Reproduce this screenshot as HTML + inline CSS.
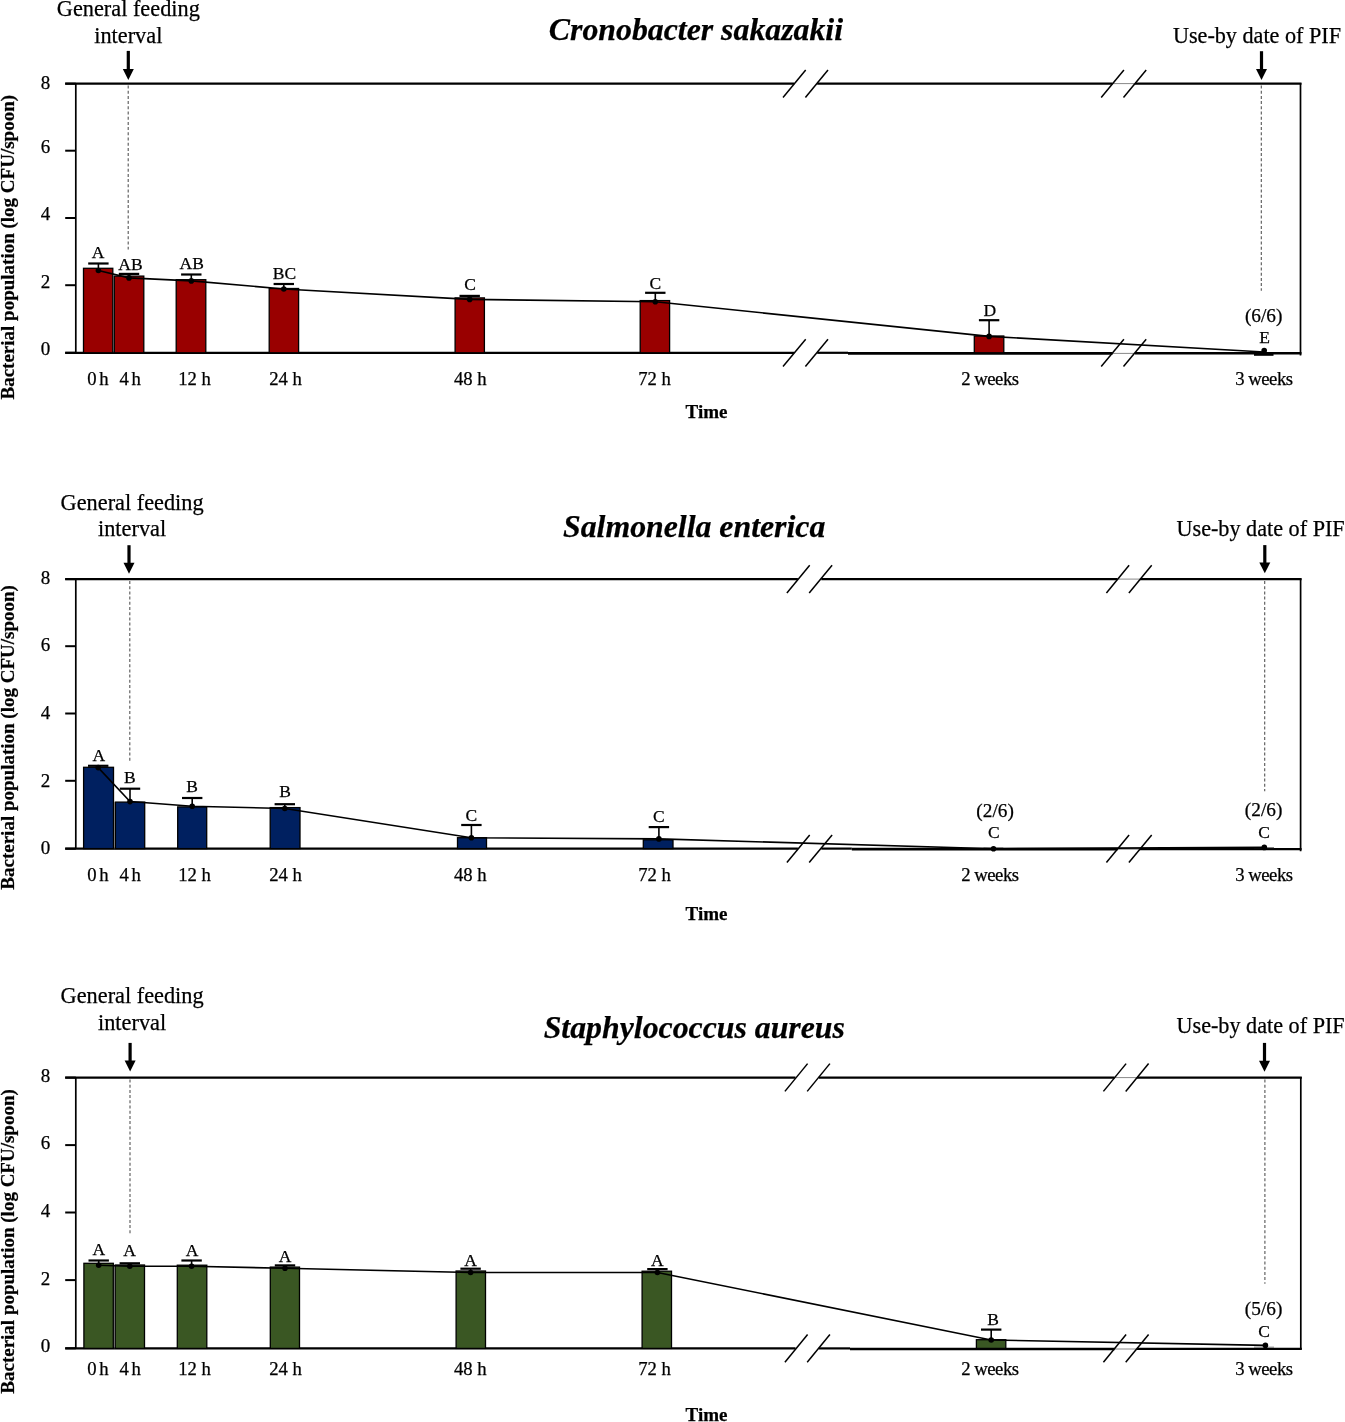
<!DOCTYPE html><html><head><meta charset="utf-8"><style>html,body{margin:0;padding:0;background:#fff;width:1345px;height:1422px;overflow:hidden}svg{position:absolute;left:0;top:0;will-change:transform}text{font-family:"Liberation Serif",serif;fill:#000;stroke:#000;stroke-width:0.25px}</style></head><body><svg width="1345" height="1422" viewBox="0 0 1345 1422">
<rect width="1345" height="1422" fill="#fff"/>
<g>
<text x="695.95" y="40.4" font-size="31.8" font-weight="bold" font-style="italic" text-anchor="middle" >Cronobacter sakazakii</text>
<text x="128.3" y="15.8" font-size="22.3" text-anchor="middle" >General feeding</text>
<text x="128.3" y="42.6" font-size="22.3" text-anchor="middle" >interval</text>
<text x="1257" y="42.6" font-size="22.2" text-anchor="middle" >Use-by date of PIF</text>
<line x1="128.3" y1="50.9" x2="128.3" y2="71.5" stroke="#000" stroke-width="3.2" />
<path d="M122.8,69 L133.8,69 L128.3,79.9 Z" fill="#000"/>
<line x1="1261.5" y1="51.2" x2="1261.5" y2="71.5" stroke="#000" stroke-width="3.2" />
<path d="M1256,69 L1267,69 L1261.5,79.9 Z" fill="#000"/>
<line x1="128.2" y1="85.5" x2="128.2" y2="249.5" stroke="#555" stroke-width="1.1" stroke-dasharray="3 2.2"/>
<line x1="1261.3" y1="85.5" x2="1261.3" y2="290.8" stroke="#555" stroke-width="1.1" stroke-dasharray="3 2.2"/>
<line x1="75.8" y1="83.6" x2="75.8" y2="352.8" stroke="#000" stroke-width="1.7" />
<line x1="1300.5" y1="83.1" x2="1300.5" y2="355.4" stroke="#000" stroke-width="1.7" />
<line x1="65.2" y1="83.6" x2="794.2" y2="83.6" stroke="#000" stroke-width="2.2" />
<line x1="817.2" y1="83.6" x2="1112.5" y2="83.6" stroke="#000" stroke-width="2.2" />
<line x1="1112.5" y1="83.6" x2="1135" y2="83.6" stroke="#888" stroke-width="1" />
<line x1="1135" y1="83.6" x2="1301.5" y2="83.6" stroke="#000" stroke-width="2.2" />
<line x1="65.2" y1="352.8" x2="794.2" y2="352.8" stroke="#000" stroke-width="2.2" />
<line x1="817.2" y1="352.8" x2="848" y2="352.8" stroke="#000" stroke-width="2.2" />
<line x1="848" y1="353.35" x2="1112.5" y2="353.35" stroke="#000" stroke-width="2.6" />
<line x1="1112.5" y1="353.4" x2="1135" y2="353.4" stroke="#888" stroke-width="1" />
<line x1="1135" y1="353.25" x2="1301.5" y2="353.25" stroke="#000" stroke-width="2.3" />
<line x1="65.2" y1="352.8" x2="75.8" y2="352.8" stroke="#000" stroke-width="2.0" />
<text x="50.3" y="355.3" font-size="19" text-anchor="end" >0</text>
<line x1="65.2" y1="285.2" x2="75.8" y2="285.2" stroke="#000" stroke-width="2.0" />
<text x="50.3" y="287.5" font-size="19" text-anchor="end" >2</text>
<line x1="65.2" y1="218" x2="75.8" y2="218" stroke="#000" stroke-width="2.0" />
<text x="50.3" y="219.7" font-size="19" text-anchor="end" >4</text>
<line x1="65.2" y1="150.7" x2="75.8" y2="150.7" stroke="#000" stroke-width="2.0" />
<text x="50.3" y="152.5" font-size="19" text-anchor="end" >6</text>
<line x1="65.2" y1="83.7" x2="75.8" y2="83.7" stroke="#000" stroke-width="2.0" />
<text x="50.3" y="88.8" font-size="19" text-anchor="end" >8</text>
<line x1="783" y1="97.4" x2="805.7" y2="69.9" stroke="#000" stroke-width="1.5" />
<line x1="783" y1="366.5" x2="805.7" y2="339.2" stroke="#000" stroke-width="1.5" />
<line x1="805.4" y1="97.4" x2="828" y2="69.9" stroke="#000" stroke-width="1.5" />
<line x1="805.4" y1="366.5" x2="828" y2="339.2" stroke="#000" stroke-width="1.5" />
<line x1="1101.2" y1="97.4" x2="1123.9" y2="69.9" stroke="#000" stroke-width="1.5" />
<line x1="1101.2" y1="366.5" x2="1123.9" y2="339.2" stroke="#000" stroke-width="1.5" />
<line x1="1123.5" y1="97.4" x2="1146.2" y2="69.9" stroke="#000" stroke-width="1.5" />
<line x1="1123.5" y1="366.5" x2="1146.2" y2="339.2" stroke="#000" stroke-width="1.5" />
<rect x="113.4" y="276.1" width="0.3" height="76.7" fill="#a0a0a0"/>
<rect x="83.5" y="268.3" width="29.3" height="84.5" fill="#990000" stroke="#000" stroke-width="1.3"/>
<line x1="98.4" y1="263.5" x2="98.4" y2="270.5" stroke="#000" stroke-width="1.6" />
<line x1="88.2" y1="263.5" x2="108.6" y2="263.5" stroke="#000" stroke-width="2.2" />
<text x="98" y="257.8" font-size="17.5" text-anchor="middle" >A</text>
<rect x="114.3" y="276.1" width="29.5" height="76.7" fill="#990000" stroke="#000" stroke-width="1.3"/>
<line x1="129" y1="273.9" x2="129" y2="277.9" stroke="#000" stroke-width="1.6" />
<line x1="118.8" y1="273.9" x2="139.2" y2="273.9" stroke="#000" stroke-width="2.2" />
<text x="130.5" y="269.8" font-size="17.5" text-anchor="middle" >AB</text>
<rect x="176.2" y="279.7" width="29.6" height="73.1" fill="#990000" stroke="#000" stroke-width="1.3"/>
<line x1="191.3" y1="274.5" x2="191.3" y2="280.9" stroke="#000" stroke-width="1.6" />
<line x1="181.1" y1="274.5" x2="201.5" y2="274.5" stroke="#000" stroke-width="2.2" />
<text x="191.7" y="269" font-size="17.5" text-anchor="middle" >AB</text>
<rect x="269.2" y="288.5" width="29.4" height="64.3" fill="#990000" stroke="#000" stroke-width="1.3"/>
<line x1="283.8" y1="284" x2="283.8" y2="289" stroke="#000" stroke-width="1.6" />
<line x1="273.6" y1="284" x2="294" y2="284" stroke="#000" stroke-width="2.2" />
<text x="284.5" y="278.7" font-size="17.5" text-anchor="middle" >BC</text>
<rect x="455.1" y="297.9" width="29.3" height="54.9" fill="#990000" stroke="#000" stroke-width="1.3"/>
<line x1="469.7" y1="295.9" x2="469.7" y2="299.4" stroke="#000" stroke-width="1.6" />
<line x1="459.5" y1="295.9" x2="479.9" y2="295.9" stroke="#000" stroke-width="2.2" />
<text x="470" y="290.3" font-size="17.5" text-anchor="middle" >C</text>
<rect x="640.2" y="300.6" width="29.4" height="52.2" fill="#990000" stroke="#000" stroke-width="1.3"/>
<line x1="655.3" y1="292.8" x2="655.3" y2="301.8" stroke="#000" stroke-width="1.6" />
<line x1="645.1" y1="292.8" x2="665.5" y2="292.8" stroke="#000" stroke-width="2.2" />
<text x="655.3" y="288.5" font-size="17.5" text-anchor="middle" >C</text>
<rect x="974.3" y="336" width="29.5" height="16.8" fill="#990000" stroke="#000" stroke-width="1.3"/>
<line x1="989.1" y1="320.2" x2="989.1" y2="336.4" stroke="#000" stroke-width="1.6" />
<line x1="978.9" y1="320.2" x2="999.3" y2="320.2" stroke="#000" stroke-width="2.2" />
<text x="989.7" y="315.5" font-size="17.5" text-anchor="middle" >D</text>
<rect x="1254" y="352.9" width="19.5" height="2.9" fill="#000"/>
<text x="1264.5" y="343" font-size="17.5" text-anchor="middle" >E</text>
<polyline points="98.4,270.5 129,277.9 191.3,280.9 283.8,289 469.7,299.4 655.3,301.8 989.1,336.4 1264.2,352" fill="none" stroke="#000" stroke-width="1.6"/>
<circle cx="98.4" cy="270.5" r="2.8"/>
<circle cx="129" cy="277.9" r="2.8"/>
<circle cx="191.3" cy="280.9" r="2.8"/>
<circle cx="283.8" cy="289" r="2.8"/>
<circle cx="469.7" cy="299.4" r="2.8"/>
<circle cx="655.3" cy="301.8" r="2.8"/>
<circle cx="989.1" cy="336.4" r="2.8"/>
<circle cx="1264.2" cy="350.5" r="2.8"/>
<text x="1263.7" y="321.7" font-size="19.3" text-anchor="middle" >(6/6)</text>
<text x="99.3" y="385" font-size="18.7" text-anchor="middle" letter-spacing="2.6">0h</text>
<text x="131.5" y="385" font-size="18.7" text-anchor="middle" letter-spacing="2.6">4h</text>
<text x="194.6" y="385" font-size="18.7" text-anchor="middle" >12 h</text>
<text x="285.6" y="385" font-size="18.7" text-anchor="middle" >24 h</text>
<text x="470.25" y="385" font-size="18.7" text-anchor="middle" >48 h</text>
<text x="654.5" y="385" font-size="18.7" text-anchor="middle" >72 h</text>
<text x="989.9" y="385" font-size="18.7" text-anchor="middle" letter-spacing="-0.5">2 weeks</text>
<text x="1263.9" y="385" font-size="18.7" text-anchor="middle" letter-spacing="-0.5">3 weeks</text>
<text x="706.55" y="418" font-size="19" font-weight="bold" text-anchor="middle" >Time</text>
<text x="13.9" y="247.25" font-size="19" font-weight="bold" text-anchor="middle" transform="rotate(-90 13.9 247.25)">Bacterial population (log CFU/spoon)</text>
</g>
<g>
<text x="694.15" y="537.4" font-size="31.8" font-weight="bold" font-style="italic" text-anchor="middle" >Salmonella enterica</text>
<text x="132.1" y="509.5" font-size="22.3" text-anchor="middle" >General feeding</text>
<text x="132.1" y="535.9" font-size="22.3" text-anchor="middle" >interval</text>
<text x="1260.6" y="536" font-size="22.2" text-anchor="middle" >Use-by date of PIF</text>
<line x1="129" y1="545.2" x2="129" y2="565.3" stroke="#000" stroke-width="3.2" />
<path d="M123.5,562.8 L134.5,562.8 L129,573.7 Z" fill="#000"/>
<line x1="1264.8" y1="545.1" x2="1264.8" y2="564.9" stroke="#000" stroke-width="3.2" />
<path d="M1259.3,562.4 L1270.3,562.4 L1264.8,573.3 Z" fill="#000"/>
<line x1="129.8" y1="581" x2="129.8" y2="763" stroke="#555" stroke-width="1.1" stroke-dasharray="3 2.2"/>
<line x1="1264.7" y1="581" x2="1264.7" y2="791.2" stroke="#555" stroke-width="1.1" stroke-dasharray="3 2.2"/>
<line x1="75.8" y1="579.1" x2="75.8" y2="848.6" stroke="#000" stroke-width="1.7" />
<line x1="1300.6" y1="578.6" x2="1300.6" y2="851.2" stroke="#000" stroke-width="1.7" />
<line x1="65.2" y1="579.1" x2="797.9" y2="579.1" stroke="#000" stroke-width="2.2" />
<line x1="821.3" y1="579.1" x2="1117.5" y2="579.1" stroke="#000" stroke-width="2.2" />
<line x1="1117.5" y1="579.1" x2="1140" y2="579.1" stroke="#888" stroke-width="1" />
<line x1="1140" y1="579.1" x2="1301.6" y2="579.1" stroke="#000" stroke-width="2.2" />
<line x1="65.2" y1="848.6" x2="797.9" y2="848.6" stroke="#000" stroke-width="2.2" />
<line x1="821.3" y1="848.6" x2="851.8" y2="848.6" stroke="#000" stroke-width="2.2" />
<line x1="851.8" y1="849.15" x2="1117.5" y2="849.15" stroke="#000" stroke-width="2.6" />
<line x1="1117.5" y1="849.2" x2="1140" y2="849.2" stroke="#888" stroke-width="1" />
<line x1="1140" y1="849.05" x2="1301.6" y2="849.05" stroke="#000" stroke-width="2.3" />
<line x1="65.2" y1="848.7" x2="75.8" y2="848.7" stroke="#000" stroke-width="2.0" />
<text x="50.3" y="854.2" font-size="19" text-anchor="end" >0</text>
<line x1="65.2" y1="780.8" x2="75.8" y2="780.8" stroke="#000" stroke-width="2.0" />
<text x="50.3" y="786.7" font-size="19" text-anchor="end" >2</text>
<line x1="65.2" y1="713.5" x2="75.8" y2="713.5" stroke="#000" stroke-width="2.0" />
<text x="50.3" y="718.6" font-size="19" text-anchor="end" >4</text>
<line x1="65.2" y1="646.2" x2="75.8" y2="646.2" stroke="#000" stroke-width="2.0" />
<text x="50.3" y="651.1" font-size="19" text-anchor="end" >6</text>
<line x1="65.2" y1="579.1" x2="75.8" y2="579.1" stroke="#000" stroke-width="2.0" />
<text x="50.3" y="583.6" font-size="19" text-anchor="end" >8</text>
<line x1="786.9" y1="593" x2="809.7" y2="565.2" stroke="#000" stroke-width="1.5" />
<line x1="786.9" y1="862.5" x2="809.7" y2="834.9" stroke="#000" stroke-width="1.5" />
<line x1="809.2" y1="593" x2="832.1" y2="565.2" stroke="#000" stroke-width="1.5" />
<line x1="809.2" y1="862.5" x2="832.1" y2="834.9" stroke="#000" stroke-width="1.5" />
<line x1="1106.4" y1="593" x2="1129.1" y2="565.2" stroke="#000" stroke-width="1.5" />
<line x1="1106.4" y1="862.5" x2="1129.1" y2="834.9" stroke="#000" stroke-width="1.5" />
<line x1="1128.9" y1="593" x2="1151.7" y2="565.2" stroke="#000" stroke-width="1.5" />
<line x1="1128.9" y1="862.5" x2="1151.7" y2="834.9" stroke="#000" stroke-width="1.5" />
<rect x="114.1" y="802.1" width="0.7" height="46.5" fill="#a0a0a0"/>
<rect x="83.6" y="767.3" width="29.9" height="81.3" fill="#002060" stroke="#000" stroke-width="1.3"/>
<line x1="98.2" y1="765.8" x2="98.2" y2="767.6" stroke="#000" stroke-width="1.6" />
<line x1="88" y1="765.8" x2="108.4" y2="765.8" stroke="#000" stroke-width="2.2" />
<text x="98.8" y="761.3" font-size="17.5" text-anchor="middle" >A</text>
<rect x="115.4" y="802.1" width="29.3" height="46.5" fill="#002060" stroke="#000" stroke-width="1.3"/>
<line x1="130" y1="788.7" x2="130" y2="801.6" stroke="#000" stroke-width="1.6" />
<line x1="119.8" y1="788.7" x2="140.2" y2="788.7" stroke="#000" stroke-width="2.2" />
<text x="129.8" y="783.2" font-size="17.5" text-anchor="middle" >B</text>
<rect x="177.7" y="806.9" width="29" height="41.7" fill="#002060" stroke="#000" stroke-width="1.3"/>
<line x1="192.2" y1="798" x2="192.2" y2="806.3" stroke="#000" stroke-width="1.6" />
<line x1="182" y1="798" x2="202.4" y2="798" stroke="#000" stroke-width="2.2" />
<text x="192.1" y="791.5" font-size="17.5" text-anchor="middle" >B</text>
<rect x="270.2" y="807.6" width="29.8" height="41" fill="#002060" stroke="#000" stroke-width="1.3"/>
<line x1="284.8" y1="804.2" x2="284.8" y2="808.5" stroke="#000" stroke-width="1.6" />
<line x1="274.6" y1="804.2" x2="295" y2="804.2" stroke="#000" stroke-width="2.2" />
<text x="285" y="797.3" font-size="17.5" text-anchor="middle" >B</text>
<rect x="457.5" y="837.7" width="29" height="10.9" fill="#002060" stroke="#000" stroke-width="1.3"/>
<line x1="471.4" y1="825" x2="471.4" y2="837.7" stroke="#000" stroke-width="1.6" />
<line x1="461.2" y1="825" x2="481.6" y2="825" stroke="#000" stroke-width="2.2" />
<text x="471.4" y="820.5" font-size="17.5" text-anchor="middle" >C</text>
<rect x="643.3" y="839.8" width="29.7" height="8.8" fill="#002060" stroke="#000" stroke-width="1.3"/>
<line x1="658.9" y1="827.1" x2="658.9" y2="838.9" stroke="#000" stroke-width="1.6" />
<line x1="648.7" y1="827.1" x2="669.1" y2="827.1" stroke="#000" stroke-width="2.2" />
<text x="658.9" y="821.5" font-size="17.5" text-anchor="middle" >C</text>
<line x1="983.5" y1="847.8" x2="1003.3" y2="847.8" stroke="#777" stroke-width="1" />
<text x="993.9" y="838.3" font-size="17.5" text-anchor="middle" >C</text>
<line x1="1254" y1="847.6" x2="1274" y2="847.6" stroke="#777" stroke-width="1" />
<text x="1264.2" y="837.5" font-size="17.5" text-anchor="middle" >C</text>
<polyline points="98.2,767.6 130,801.6 192.2,806.3 284.8,808.5 471.4,837.7 658.9,838.9 993.5,848.7 1264.3,847.4" fill="none" stroke="#000" stroke-width="1.6"/>
<circle cx="98.2" cy="767.6" r="2.8"/>
<circle cx="130" cy="801.6" r="2.8"/>
<circle cx="192.2" cy="806.3" r="2.8"/>
<circle cx="284.8" cy="808.5" r="2.8"/>
<circle cx="471.4" cy="837.7" r="2.8"/>
<circle cx="658.9" cy="838.9" r="2.8"/>
<circle cx="993.5" cy="848.7" r="2.8"/>
<circle cx="1264.3" cy="847.4" r="2.8"/>
<text x="995.1" y="816.5" font-size="19.3" text-anchor="middle" >(2/6)</text>
<text x="1263.6" y="816.1" font-size="19.3" text-anchor="middle" >(2/6)</text>
<text x="99.3" y="881" font-size="18.7" text-anchor="middle" letter-spacing="2.6">0h</text>
<text x="131.5" y="881" font-size="18.7" text-anchor="middle" letter-spacing="2.6">4h</text>
<text x="194.6" y="881" font-size="18.7" text-anchor="middle" >12 h</text>
<text x="285.6" y="881" font-size="18.7" text-anchor="middle" >24 h</text>
<text x="470.25" y="881" font-size="18.7" text-anchor="middle" >48 h</text>
<text x="654.5" y="881" font-size="18.7" text-anchor="middle" >72 h</text>
<text x="989.9" y="881" font-size="18.7" text-anchor="middle" letter-spacing="-0.5">2 weeks</text>
<text x="1263.9" y="881" font-size="18.7" text-anchor="middle" letter-spacing="-0.5">3 weeks</text>
<text x="706.55" y="919.7" font-size="19" font-weight="bold" text-anchor="middle" >Time</text>
<text x="13.9" y="737.4" font-size="19" font-weight="bold" text-anchor="middle" transform="rotate(-90 13.9 737.4)">Bacterial population (log CFU/spoon)</text>
</g>
<g>
<text x="694.3" y="1037.9" font-size="31.8" font-weight="bold" font-style="italic" text-anchor="middle" >Staphylococcus aureus</text>
<text x="132.1" y="1002.8" font-size="22.3" text-anchor="middle" >General feeding</text>
<text x="132.1" y="1029.5" font-size="22.3" text-anchor="middle" >interval</text>
<text x="1260.6" y="1033" font-size="22.2" text-anchor="middle" >Use-by date of PIF</text>
<line x1="130.1" y1="1042.9" x2="130.1" y2="1063" stroke="#000" stroke-width="3.2" />
<path d="M124.6,1060.5 L135.6,1060.5 L130.1,1071.4 Z" fill="#000"/>
<line x1="1264.5" y1="1042.9" x2="1264.5" y2="1063.3" stroke="#000" stroke-width="3.2" />
<path d="M1259,1060.8 L1270,1060.8 L1264.5,1071.7 Z" fill="#000"/>
<line x1="130" y1="1079.5" x2="130" y2="1234.9" stroke="#555" stroke-width="1.1" stroke-dasharray="3 2.2"/>
<line x1="1264.9" y1="1079.5" x2="1264.9" y2="1283.8" stroke="#555" stroke-width="1.1" stroke-dasharray="3 2.2"/>
<line x1="75.8" y1="1077.6" x2="75.8" y2="1348.4" stroke="#000" stroke-width="1.7" />
<line x1="1300.8" y1="1077.1" x2="1300.8" y2="1349.4" stroke="#000" stroke-width="1.7" />
<line x1="65.2" y1="1077.6" x2="795.5" y2="1077.6" stroke="#000" stroke-width="2.2" />
<line x1="818.8" y1="1077.6" x2="1114.5" y2="1077.6" stroke="#000" stroke-width="2.2" />
<line x1="1114.5" y1="1077.6" x2="1137" y2="1077.6" stroke="#888" stroke-width="1" />
<line x1="1137" y1="1077.6" x2="1301.8" y2="1077.6" stroke="#000" stroke-width="2.2" />
<line x1="65.2" y1="1348.4" x2="795.5" y2="1348.4" stroke="#000" stroke-width="2.2" />
<line x1="818.8" y1="1348.4" x2="850" y2="1348.4" stroke="#000" stroke-width="2.2" />
<line x1="850" y1="1348.95" x2="1114.5" y2="1348.95" stroke="#000" stroke-width="2.6" />
<line x1="1114.5" y1="1349" x2="1137" y2="1349" stroke="#888" stroke-width="1" />
<line x1="1137" y1="1348.85" x2="1301.8" y2="1348.85" stroke="#000" stroke-width="2.3" />
<line x1="65.2" y1="1348.3" x2="75.8" y2="1348.3" stroke="#000" stroke-width="2.0" />
<text x="50.3" y="1352.3" font-size="19" text-anchor="end" >0</text>
<line x1="65.2" y1="1280.1" x2="75.8" y2="1280.1" stroke="#000" stroke-width="2.0" />
<text x="50.3" y="1285" font-size="19" text-anchor="end" >2</text>
<line x1="65.2" y1="1212.5" x2="75.8" y2="1212.5" stroke="#000" stroke-width="2.0" />
<text x="50.3" y="1216.7" font-size="19" text-anchor="end" >4</text>
<line x1="65.2" y1="1145.1" x2="75.8" y2="1145.1" stroke="#000" stroke-width="2.0" />
<text x="50.3" y="1149.4" font-size="19" text-anchor="end" >6</text>
<line x1="65.2" y1="1077.6" x2="75.8" y2="1077.6" stroke="#000" stroke-width="2.0" />
<text x="50.3" y="1081.9" font-size="19" text-anchor="end" >8</text>
<line x1="784.9" y1="1091.4" x2="807.6" y2="1063.6" stroke="#000" stroke-width="1.5" />
<line x1="784.9" y1="1362.2" x2="807.6" y2="1334.5" stroke="#000" stroke-width="1.5" />
<line x1="807.2" y1="1091.4" x2="829.9" y2="1063.6" stroke="#000" stroke-width="1.5" />
<line x1="807.2" y1="1362.2" x2="829.9" y2="1334.5" stroke="#000" stroke-width="1.5" />
<line x1="1103.4" y1="1091.4" x2="1126.1" y2="1063.6" stroke="#000" stroke-width="1.5" />
<line x1="1103.4" y1="1362.2" x2="1126.1" y2="1334.5" stroke="#000" stroke-width="1.5" />
<line x1="1125.7" y1="1091.4" x2="1148.6" y2="1063.6" stroke="#000" stroke-width="1.5" />
<line x1="1125.7" y1="1362.2" x2="1148.6" y2="1334.5" stroke="#000" stroke-width="1.5" />
<rect x="113.9" y="1265" width="0.7" height="83.4" fill="#a0a0a0"/>
<rect x="83.9" y="1263.3" width="29.4" height="85.1" fill="#3A5723" stroke="#000" stroke-width="1.3"/>
<line x1="98.7" y1="1260.5" x2="98.7" y2="1265.2" stroke="#000" stroke-width="1.6" />
<line x1="88.5" y1="1260.5" x2="108.9" y2="1260.5" stroke="#000" stroke-width="2.2" />
<text x="98.8" y="1255.3" font-size="17.5" text-anchor="middle" >A</text>
<rect x="115.2" y="1265" width="29.3" height="83.4" fill="#3A5723" stroke="#000" stroke-width="1.3"/>
<line x1="129.8" y1="1263.3" x2="129.8" y2="1266.2" stroke="#000" stroke-width="1.6" />
<line x1="119.6" y1="1263.3" x2="140" y2="1263.3" stroke="#000" stroke-width="2.2" />
<text x="129.5" y="1256.3" font-size="17.5" text-anchor="middle" >A</text>
<rect x="177.3" y="1265.2" width="29.5" height="83.2" fill="#3A5723" stroke="#000" stroke-width="1.3"/>
<line x1="191.6" y1="1260.5" x2="191.6" y2="1266.2" stroke="#000" stroke-width="1.6" />
<line x1="181.4" y1="1260.5" x2="201.8" y2="1260.5" stroke="#000" stroke-width="2.2" />
<text x="192.1" y="1256.3" font-size="17.5" text-anchor="middle" >A</text>
<rect x="270.3" y="1267.1" width="29.2" height="81.3" fill="#3A5723" stroke="#000" stroke-width="1.3"/>
<line x1="285" y1="1265.4" x2="285" y2="1268.3" stroke="#000" stroke-width="1.6" />
<line x1="274.8" y1="1265.4" x2="295.2" y2="1265.4" stroke="#000" stroke-width="2.2" />
<text x="285" y="1261.9" font-size="17.5" text-anchor="middle" >A</text>
<rect x="456.1" y="1271" width="29.4" height="77.4" fill="#3A5723" stroke="#000" stroke-width="1.3"/>
<line x1="470.6" y1="1268.7" x2="470.6" y2="1272.5" stroke="#000" stroke-width="1.6" />
<line x1="460.4" y1="1268.7" x2="480.8" y2="1268.7" stroke="#000" stroke-width="2.2" />
<text x="470.6" y="1265.8" font-size="17.5" text-anchor="middle" >A</text>
<rect x="642.1" y="1271.2" width="29.4" height="77.2" fill="#3A5723" stroke="#000" stroke-width="1.3"/>
<line x1="657.4" y1="1269.1" x2="657.4" y2="1272.5" stroke="#000" stroke-width="1.6" />
<line x1="647.2" y1="1269.1" x2="667.6" y2="1269.1" stroke="#000" stroke-width="2.2" />
<text x="657.4" y="1265.8" font-size="17.5" text-anchor="middle" >A</text>
<rect x="976.4" y="1339.7" width="29.4" height="8.7" fill="#3A5723" stroke="#000" stroke-width="1.3"/>
<line x1="991.2" y1="1329.6" x2="991.2" y2="1340" stroke="#000" stroke-width="1.6" />
<line x1="981" y1="1329.6" x2="1001.4" y2="1329.6" stroke="#000" stroke-width="2.2" />
<text x="993" y="1324.6" font-size="17.5" text-anchor="middle" >B</text>
<line x1="1254" y1="1347.2" x2="1274" y2="1347.2" stroke="#777" stroke-width="1" />
<text x="1264.2" y="1337.3" font-size="17.5" text-anchor="middle" >C</text>
<polyline points="98.7,1265.2 129.8,1266.2 191.6,1266.2 285,1268.3 470.6,1272.5 657.4,1272.5 991.2,1340 1265.4,1345.4" fill="none" stroke="#000" stroke-width="1.6"/>
<circle cx="98.7" cy="1265.2" r="2.8"/>
<circle cx="129.8" cy="1266.2" r="2.8"/>
<circle cx="191.6" cy="1266.2" r="2.8"/>
<circle cx="285" cy="1268.3" r="2.8"/>
<circle cx="470.6" cy="1272.5" r="2.8"/>
<circle cx="657.4" cy="1272.5" r="2.8"/>
<circle cx="991.2" cy="1340" r="2.8"/>
<circle cx="1265.4" cy="1345.4" r="2.8"/>
<text x="1263.6" y="1314.6" font-size="19.3" text-anchor="middle" >(5/6)</text>
<text x="99.3" y="1374.6" font-size="18.7" text-anchor="middle" letter-spacing="2.6">0h</text>
<text x="131.5" y="1374.6" font-size="18.7" text-anchor="middle" letter-spacing="2.6">4h</text>
<text x="194.6" y="1374.6" font-size="18.7" text-anchor="middle" >12 h</text>
<text x="285.6" y="1374.6" font-size="18.7" text-anchor="middle" >24 h</text>
<text x="470.25" y="1374.6" font-size="18.7" text-anchor="middle" >48 h</text>
<text x="654.5" y="1374.6" font-size="18.7" text-anchor="middle" >72 h</text>
<text x="989.9" y="1374.6" font-size="18.7" text-anchor="middle" letter-spacing="-0.5">2 weeks</text>
<text x="1263.9" y="1374.6" font-size="18.7" text-anchor="middle" letter-spacing="-0.5">3 weeks</text>
<text x="706.55" y="1421" font-size="19" font-weight="bold" text-anchor="middle" >Time</text>
<text x="13.9" y="1241.45" font-size="19" font-weight="bold" text-anchor="middle" transform="rotate(-90 13.9 1241.45)">Bacterial population (log CFU/spoon)</text>
</g>
</svg></body></html>
